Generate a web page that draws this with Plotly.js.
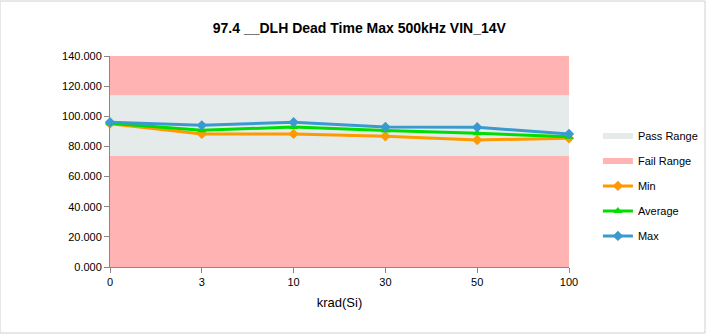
<!DOCTYPE html>
<html><head><meta charset="utf-8">
<script src="https://cdn.plot.ly/plotly-3.0.1.min.js"></script>
<style>html,body{margin:0;padding:0;background:#fff}#c{width:706px;height:334px}</style>
</head><body><div id="c"></div>
<script>
const categories = ['0','3','10','30','50','100'];
const failLow = [74,74,74,74,74,74];
const passBand = [40,40,40,40,40,40];
const failHigh = [26,26,26,26,26,26];
const minVals = [95.1,88.3,88.3,86.7,84.3,85.4];
const avgVals = [95.3,90.7,92.9,90.5,88.7,86.5];
const maxVals = [96.0,94.0,96.0,92.9,92.7,88.3];
const yTicks = [0,20,40,60,80,100,120,140];

const xs = categories.map((c,i)=>i);
const traces = [
 {x:xs,y:failLow,type:'scatter',mode:'none',stackgroup:'r',fillcolor:'#FFB3B3',showlegend:false,hoverinfo:'skip',legendgroup:'f'},
 {x:xs,y:passBand,type:'scatter',mode:'none',stackgroup:'r',fillcolor:'#E5EBEB',name:'Pass Range',legendgroup:'p'},
 {x:xs,y:failHigh,type:'scatter',mode:'none',stackgroup:'r',fillcolor:'#FFB3B3',name:'Fail Range',legendgroup:'f'},
 {x:xs,y:minVals,type:'scatter',mode:'lines+markers',name:'Min',cliponaxis:false,line:{color:'#FF9900',width:3},marker:{symbol:'diamond',size:8,color:'#FF9900'},legendgroup:'mi'},
 {x:xs,y:avgVals,type:'scatter',mode:'lines+markers',name:'Average',cliponaxis:false,line:{color:'#00DD00',width:3},marker:{symbol:'triangle-up',size:8,color:'#00DD00'},legendgroup:'a'},
 {x:xs,y:maxVals,type:'scatter',mode:'lines+markers',name:'Max',cliponaxis:false,line:{color:'#3A9AD0',width:3},marker:{symbol:'diamond',size:8,color:'#3A9AD0'},legendgroup:'ma'}
];
const layout = {
 width:706,height:334,
 margin:{l:110,r:137,t:56,b:67,autoexpand:false},
 paper_bgcolor:'#fff',plot_bgcolor:'#fff',
 font:{family:'Liberation Sans, Arial, sans-serif',size:11,color:'#000'},
 title:{text:'<b>97.4 __DLH Dead Time Max 500kHz VIN_14V</b>',font:{size:14},x:0.509,xanchor:'center',y:0.915,yanchor:'middle'},
 xaxis:{range:[0,5],tickvals:xs,ticktext:categories,showgrid:false,zeroline:false,showline:true,linecolor:'#888',ticks:'outside',ticklen:5,tickcolor:'#888',
   title:{text:'krad(Si)',font:{size:13},standoff:10}},
 yaxis:{range:[0,140],tickvals:yTicks,ticktext:yTicks.map(v=>v.toFixed(3)),showgrid:false,zeroline:false,showline:true,linecolor:'#888',ticks:'outside',ticklen:5,tickcolor:'#888'},
 legend:{x:1.063,xanchor:'left',y:0.69,yanchor:'top',xref:'paper',traceorder:'grouped',tracegroupgap:6,font:{size:11},bgcolor:'rgba(0,0,0,0)'},
 shapes:[{type:'rect',xref:'paper',yref:'paper',x0:-110/459,x1:1+136/459,y0:-66/211,y1:1+55/211,line:{color:'#D0D0D0',width:1}}],
 showlegend:true
};
Plotly.newPlot('c',traces,layout,{displayModeBar:false,staticPlot:true});
</script></body></html>
